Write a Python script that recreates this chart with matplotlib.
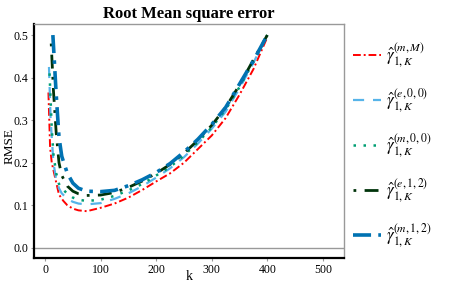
import numpy as np
import matplotlib.pyplot as plt

plt.rcParams['font.family'] = ['Liberation Serif', 'DejaVu Serif']
plt.rcParams['mathtext.fontset'] = 'stix'

# RMSE against k for each estimator
k_mM = [6, 9, 12, 18, 25, 33, 40, 50, 60, 75, 100, 125, 150, 175, 200, 225, 250, 275, 300, 325, 350, 375, 400]
rmse_mM = [0.365, 0.236, 0.2, 0.165, 0.125, 0.11, 0.1, 0.092, 0.088, 0.086, 0.094, 0.104, 0.118, 0.136,
           0.156, 0.175, 0.2, 0.232, 0.264, 0.305, 0.36, 0.42, 0.495]

k_e00 = [7, 10, 15, 20, 25, 30, 40, 50, 60, 75, 100, 125, 150, 175, 200, 225, 250, 275, 300, 325, 350, 375, 400]
rmse_e00 = [0.425, 0.3, 0.2, 0.16, 0.14, 0.128, 0.115, 0.108, 0.104, 0.102, 0.105, 0.115, 0.128, 0.145,
            0.165, 0.187, 0.213, 0.245, 0.28, 0.32, 0.375, 0.435, 0.5]

k_m00 = [8, 12, 15, 20, 25, 30, 40, 50, 60, 75, 100, 125, 150, 175, 200, 225, 250, 275, 300, 325, 350, 375, 400]
rmse_m00 = [0.41, 0.28, 0.22, 0.175, 0.15, 0.14, 0.127, 0.118, 0.113, 0.11, 0.113, 0.122, 0.135, 0.15,
            0.17, 0.19, 0.217, 0.248, 0.283, 0.325, 0.378, 0.437, 0.5]

k_e12 = [11, 15, 20, 25, 30, 40, 50, 60, 75, 100, 125, 150, 175, 200, 225, 250, 275, 300, 325, 350, 375, 400]
rmse_e12 = [0.48, 0.37, 0.27, 0.2, 0.17, 0.145, 0.133, 0.127, 0.123, 0.124, 0.13, 0.142, 0.157,
            0.175, 0.196, 0.222, 0.253, 0.288, 0.33, 0.383, 0.442, 0.5]

k_m12 = [14, 20, 25, 30, 40, 50, 60, 75, 100, 125, 150, 175, 200, 225, 250, 275, 300, 325, 350, 375, 400]
rmse_m12 = [0.5, 0.36, 0.26, 0.215, 0.175, 0.152, 0.14, 0.133, 0.132, 0.135, 0.146, 0.16, 0.177,
            0.198, 0.225, 0.255, 0.29, 0.33, 0.385, 0.44, 0.5]

labels = [r'$\hat{\gamma}_{1,K}^{(m,M)}$', r'$\hat{\gamma}_{1,K}^{(e,0,0)}$', r'$\hat{\gamma}_{1,K}^{(m,0,0)}$',
          r'$\hat{\gamma}_{1,K}^{(e,1,2)}$', r'$\hat{\gamma}_{1,K}^{(m,1,2)}$']

fig = plt.figure(figsize=(4.63, 3.0), dpi=100)
ax = fig.add_axes([0.0734, 0.14, 0.6696, 0.78])

ax.axhline(0, color='#999999', linewidth=1)

ax.plot(k_mM, rmse_mM, color='red', linewidth=1.4, linestyle=(0, (4, 1.5, 1, 1.5)), label=labels[0])
ax.plot(k_e00, rmse_e00, color='#56B4E9', linewidth=1.6, linestyle=(0, (5, 4)), label=labels[1])
ax.plot(k_m00, rmse_m00, color='#009E73', linewidth=1.8, linestyle=(0, (1, 3)), label=labels[2])
ax.plot(k_e12, rmse_e12, color='#00330A', linewidth=2.0, linestyle=(0, (1, 3, 5, 3)), label=labels[3])
ax.plot(k_m12, rmse_m12, color='#0072B2', linewidth=2.6, linestyle=(0, (5, 2, 1, 2)), label=labels[4])

ax.set_xlim(-20, 538)
ax.set_ylim(-0.024, 0.526)
ax.set_xticks([0, 100, 200, 300, 400, 500])
ax.set_yticks([0.0, 0.1, 0.2, 0.3, 0.4, 0.5])
ax.set_yticklabels(['0.0', '0.1', '0.2', '0.3', '0.4', '0.5'])
ax.tick_params(labelsize=8.5, length=2, color='#999999', pad=2)

for side in ['top', 'right']:
    ax.spines[side].set_color('#999999')
    ax.spines[side].set_linewidth(1)
for side in ['left', 'bottom']:
    ax.spines[side].set_color('black')
    ax.spines[side].set_linewidth(1.6)

ax.set_title('Root Mean square error', fontsize=12, fontweight='bold', pad=4)
ax.set_xlabel('k', fontsize=10, va='center')
ax.xaxis.set_label_coords(0.5, -0.078)
ax.set_ylabel('RMSE', fontsize=9.5, ha='center', va='center')
ax.yaxis.set_label_coords(-0.08, 0.48)

ax.legend(loc='upper left', bbox_to_anchor=(0.762, 0.86), bbox_transform=fig.transFigure,
          frameon=False, fontsize=12, labelspacing=1.0, handlelength=1.7, handletextpad=0.3,
          borderpad=0, borderaxespad=0)

fig.savefig('out.png', dpi=100)
